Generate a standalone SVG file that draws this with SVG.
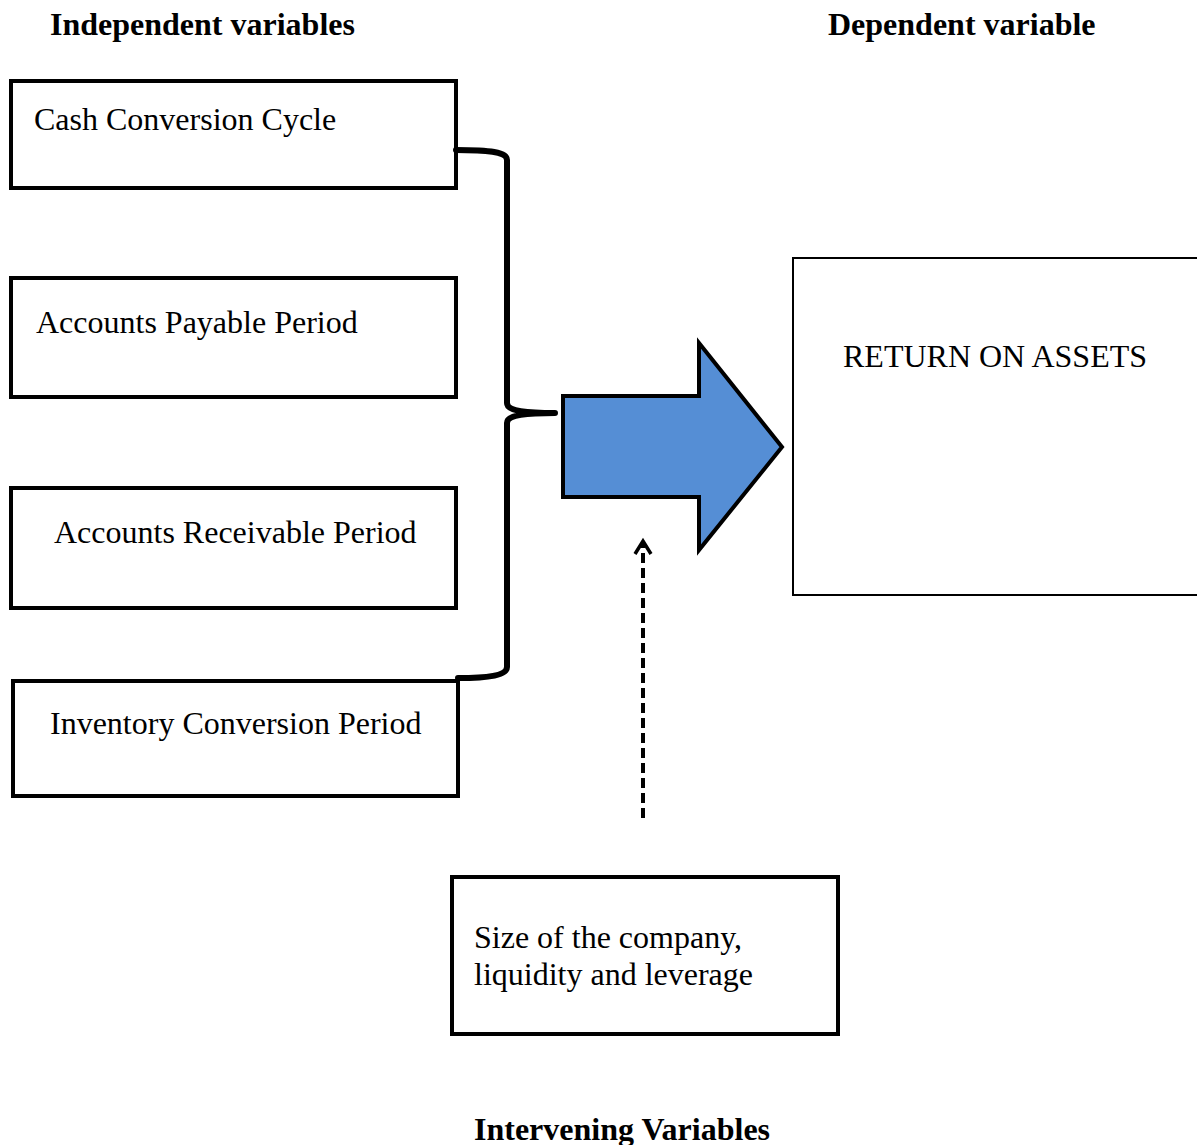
<svg xmlns="http://www.w3.org/2000/svg" width="1197" height="1145" viewBox="0 0 1197 1145">
<style>
text{font-family:"Liberation Serif","Times New Roman",serif;font-size:32px;fill:#000}
.h{font-weight:bold}
.box{fill:#fff;stroke:#000;stroke-width:4}
.thin{fill:#fff;stroke:#000;stroke-width:2}
.brace{fill:none;stroke:#000;stroke-width:6;stroke-linejoin:round;stroke-linecap:round}
</style>
<rect width="1197" height="1145" fill="#fff"/>
<text class="h" x="50" y="35">Independent variables</text>
<text class="h" x="828" y="35">Dependent variable</text>
<text class="h" x="474" y="1140">Intervening Variables</text>
<g id="ccc"><rect class="box" x="11" y="81" width="445" height="107"/><text x="34" y="130">Cash Conversion Cycle</text></g>
<g id="app"><rect class="box" x="11" y="278" width="445" height="119"/><text x="36" y="333">Accounts Payable Period</text></g>
<g id="arp"><rect class="box" x="11" y="488" width="445" height="120"/><text x="54" y="543">Accounts Receivable Period</text></g>
<g id="icp"><rect class="box" x="13" y="681" width="445" height="115"/><text x="50" y="734">Inventory Conversion Period</text></g>
<g id="roa"><rect class="thin" x="793" y="258" width="410" height="337"/><text x="843" y="367">RETURN ON ASSETS</text></g>
<g id="iv"><rect class="box" x="452" y="877" width="386" height="157"/><text x="474" y="948">Size of the company,</text><text x="474" y="985">liquidity and leverage</text></g>
<g id="connectors">
<path class="brace" d="M456,150 C490,150 507,152 507,160 L507,403 C507,410 520,413 555,413 C520,413 507,416 507,423 L507,667 C507,675 490,678 458,678"/>
<polygon points="563,396 699,396 699,343 782,447 699,550 699,497 563,497" fill="#558ed5" stroke="#000" stroke-width="4" stroke-linejoin="miter"/>
<line x1="643" y1="818" x2="643" y2="542" stroke="#000" stroke-width="4" stroke-dasharray="10,5"/>
<polyline points="635,554 643,541 651,554" fill="none" stroke="#000" stroke-width="3.5"/>
</g>
</svg>
